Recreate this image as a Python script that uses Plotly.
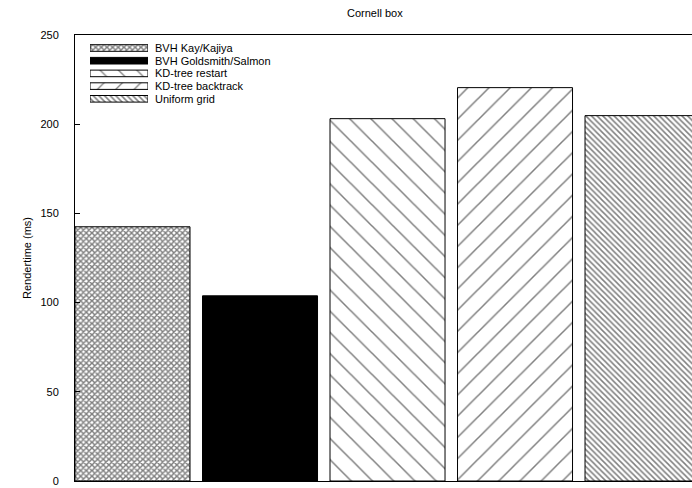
import plotly.graph_objects as go

# Render times for the Cornell box scene
methods = ["BVH Kay/Kajiya", "BVH Goldsmith/Salmon", "KD-tree restart",
           "KD-tree backtrack", "Uniform grid"]
render_ms = [142.5, 103.8, 203.1, 220.5, 204.8]
y_ticks = [0, 50, 100, 150, 200, 250]

# fill style per method: (pattern shape, bar tile size, key tile size, solidity)
fills = [("x", 4, 4, 0.6), ("", 0, 0, 0), ("\\", 15, 13, 0.1),
         ("/", 15, 13, 0.1), ("\\", 4, 4, 0.38)]

font = dict(family="Liberation Sans, Arial, Helvetica, sans-serif", size=11, color="black")

# key box geometry in pixels (plot area: x 75..692, y 35..481)
KEY_X0, KEY_X1 = 90, 148
KEY_ROW0, KEY_STEP = 48, 12.7


def bar_marker(shape, size, sol):
    if shape == "":
        return dict(color="black", line=dict(color="black", width=1))
    return dict(color="white", line=dict(color="black", width=1),
                pattern=dict(shape=shape, size=size, solidity=sol,
                             fgcolor="black", bgcolor="white", fillmode="overlay"))


fig = go.Figure()
for i, (name, val) in enumerate(zip(methods, render_ms)):
    shape, size, ksize, sol = fills[i]
    fig.add_trace(go.Bar(x=[i], y=[val], width=0.902, name=name,
                         marker=bar_marker(shape, size, sol), showlegend=False))
    # key swatch on its own small axes
    fig.add_trace(go.Bar(x=[1], y=[i], orientation="h", width=0.52, name=name,
                         marker=bar_marker(shape, ksize, sol), showlegend=False,
                         xaxis="x2", yaxis="y2", hoverinfo="skip"))

key_labels = [dict(text=name, xref="x2", yref="y2", x=1, y=i, xshift=5,
                   showarrow=False, xanchor="left", yanchor="middle", font=font)
              for i, name in enumerate(methods)]

key_top = KEY_ROW0 - KEY_STEP / 2
key_bot = KEY_ROW0 + KEY_STEP * 4.5

fig.update_layout(
    width=692, height=488,
    margin=dict(l=75, r=0, t=35, b=7),
    paper_bgcolor="white", plot_bgcolor="white",
    barmode="overlay",
    font=font,
    showlegend=False,
    xaxis=dict(range=[-0.451, 4.388], showticklabels=False, ticks="", showgrid=False,
               zeroline=False, showline=True, linecolor="black", linewidth=1, mirror=True),
    yaxis=dict(range=[0, 250], tickvals=y_ticks, ticks="inside", ticklen=5,
               tickcolor="black", showgrid=False, zeroline=False, showline=True,
               linecolor="black", linewidth=1, ticklabelstandoff=13,
               title=dict(text="Rendertime (ms)", font=font, standoff=6),
               tickfont=font),
    xaxis2=dict(domain=[(KEY_X0 - 75) / 617, (KEY_X1 - 75) / 617], range=[0, 1],
                anchor="y2", visible=False, fixedrange=True),
    yaxis2=dict(domain=[1 - (key_bot - 35) / 446, 1 - (key_top - 35) / 446],
                range=[4.5, -0.5], anchor="x2", visible=False, fixedrange=True),
    annotations=[dict(text="Cornell box", xref="paper", yref="paper",
                      x=(375 - 75) / 617, y=1 + (35 - 13) / 446, showarrow=False,
                      font=font, xanchor="center", yanchor="middle")] + key_labels,
)

fig.write_html("out.html")
